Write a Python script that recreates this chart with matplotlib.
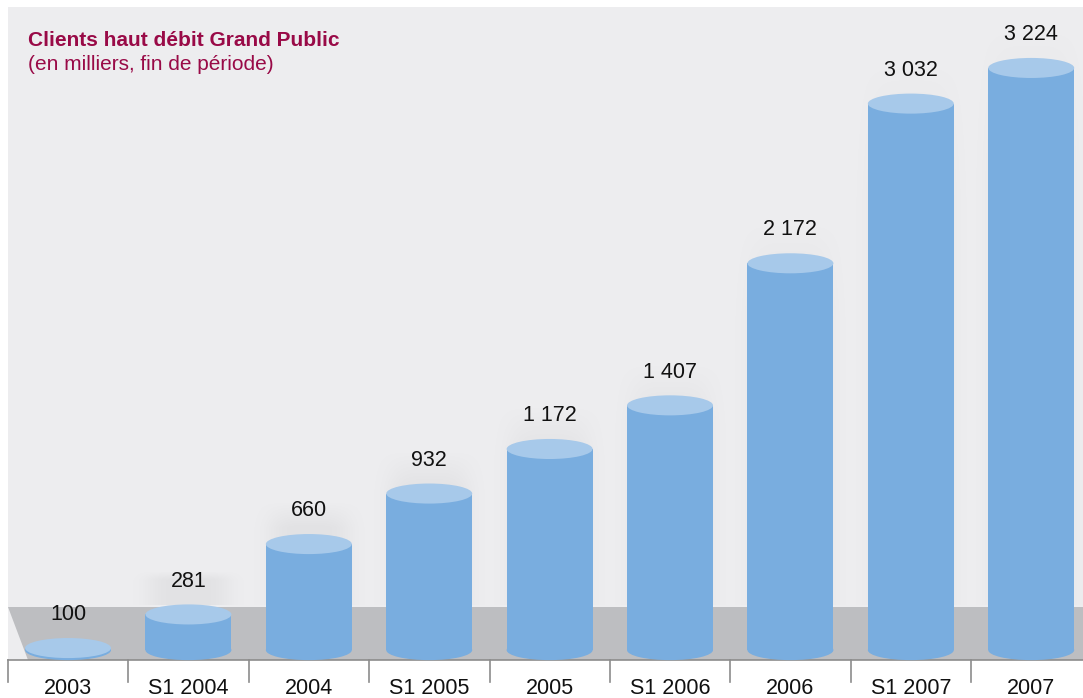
import matplotlib
matplotlib.use("Agg")
import matplotlib.pyplot as plt
from matplotlib.patches import Ellipse, Polygon, Rectangle
import numpy as np

plt.rcParams["font.family"] = ["Liberation Sans", "DejaVu Sans"]

categories = ["2003", "S1 2004", "2004", "S1 2005", "2005", "S1 2006", "2006", "S1 2007", "2007"]
clients = [100, 281, 660, 932, 1172, 1407, 2172, 3032, 3224]
value_labels = ["100", "281", "660", "932", "1 172", "1 407", "2 172", "3 032", "3 224"]

W, H = 1083, 698
fig = plt.figure(figsize=(W / 100, H / 100), dpi=100)
ax = fig.add_axes([0, 0, 1, 1])
ax.set_xlim(-0.565, 8.43)
ax.set_ylim(-169, 3590)
ax.axis("off")


def px(x, y):
    """pixel position (from top-left) -> axes fraction"""
    return x / W, 1 - y / H


# background panel and floor
x0, y0 = px(8, 7)
x1, y1 = px(1083, 660)
ax.add_patch(Rectangle((x0, y1), x1 - x0, y0 - y1, transform=ax.transAxes,
                       facecolor="#EDEDEF", edgecolor="none", zorder=0))
floor = [px(8, 607), px(1083, 607), px(1083, 660), px(28, 660)]
ax.add_patch(Polygon(floor, closed=True, transform=ax.transAxes,
                     facecolor="#BDBEC1", edgecolor="none", zorder=1))
ax.plot([x0, x1], [y1, y1], transform=ax.transAxes, color="#8C8C8C", lw=1.2, zorder=2)
for i in range(len(categories) + 1):
    bx = (8 + 120.4 * i) / W
    ax.plot([bx, bx], [y1, 1 - 682 / H], transform=ax.transAxes,
            color="#8C8C8C", lw=1.2, zorder=2)

# soft grey shadow behind each cylinder
gx = np.exp(-(np.linspace(-1.6, 1.6, 200)) ** 4)[None, :]
gy = np.clip(np.linspace(0, 4, 100), 0, 1)[:, None]
alpha = 0.09 * gx * gy
for i, v in enumerate(clients):
    rgba = np.dstack([np.full((100, 200, 3), 0.45), alpha])
    ax.imshow(rgba, extent=(i - 0.55, i + 0.55, 330, v + 230), aspect="auto",
              interpolation="bilinear", origin="upper", zorder=0.5)

# cylinders
base = 89
bw = 0.714
eh = 108
body = "#79ADDF"
top = "#A7C9EA"
ax.bar(range(len(categories)), [v - base for v in clients], bottom=base,
       width=bw, color=body, edgecolor="none", zorder=3)
for i, v in enumerate(clients):
    ax.add_patch(Ellipse((i, base), bw, eh, facecolor=body, edgecolor="none", zorder=3))
    ax.add_patch(Ellipse((i, v), bw, eh, facecolor=top, edgecolor="none", zorder=4))
    ax.annotate(value_labels[i], (i, v), xytext=(0, 24), textcoords="offset points",
                ha="center", va="center", fontsize=15.5, color="#111111", zorder=5)

# category labels
for i, c in enumerate(categories):
    ax.text(i, 1 - 688 / H, c, transform=ax.get_xaxis_transform(),
            ha="center", va="center", fontsize=15.5, color="#111111")

ax.text(28 / W, 1 - 40 / H, "Clients haut débit Grand Public", transform=ax.transAxes,
        ha="left", va="center", fontsize=15, fontweight="bold", color="#990A47")
ax.text(28 / W, 1 - 64 / H, "(en milliers, fin de période)", transform=ax.transAxes,
        ha="left", va="center", fontsize=15, color="#990A47")

fig.savefig("out.png", dpi=100)
